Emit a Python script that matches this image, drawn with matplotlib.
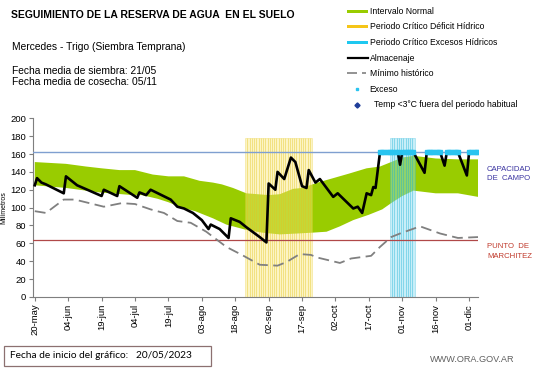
import numpy as np
import matplotlib
matplotlib.use('Agg')
import matplotlib.pyplot as plt
from matplotlib.patches import Rectangle
from matplotlib.lines import Line2D

plt.rcParams['font.family'] = ['Liberation Sans', 'DejaVu Sans']

W, H = 541, 368

# días desde el 20/05
tick_labels = ['20-may', '04-jun', '19-jun', '04-jul', '19-jul', '03-ago', '18-ago',
               '02-sep', '17-sep', '02-oct', '17-oct', '01-nov', '16-nov', '01-dic']
tick_days = [0, 15, 30, 45, 60, 75, 90, 105, 120, 135, 150, 165, 180, 195]

# Intervalo normal (banda verde)
upper_days = [0, 14, 23, 30, 38, 45, 53, 60, 67, 74, 80, 84, 89, 95, 100, 105, 110,
              116, 120, 127, 134, 141, 149, 155, 160, 165, 170, 180, 190, 199]
upper_vals = [151, 149, 146, 144, 142, 142, 137, 135, 135, 130, 128, 126, 122, 116,
              115, 114, 115, 121, 122, 128, 133, 138, 144, 146, 151, 156, 158, 155, 154, 154]
lower_days = [0, 14, 29, 44, 48, 55, 60, 66, 72, 80, 86, 95, 102, 110, 118, 125, 131,
              137, 143, 150, 156, 160, 165, 170, 180, 190, 199]
lower_vals = [125, 122, 117, 114, 114, 110, 106, 100, 96, 88, 81, 75, 72, 70, 71, 72,
              73, 79, 86, 92, 98, 105, 113, 119, 116, 116, 112]

# Almacenaje
alm_days = [0, 1, 3, 5, 13, 14, 19, 30, 31, 37, 38, 46, 47, 50, 52, 61, 64, 67, 71, 75,
            78, 79, 83, 87, 88, 92, 95, 101, 104, 105, 108, 109, 112, 115, 117, 120, 122,
            123, 126, 128, 134, 136, 143, 145, 147, 149, 151, 152, 153, 155, 163, 164,
            165, 170, 175, 176, 182, 184, 185, 190, 194, 195, 199]
alm_vals = [125, 133, 128, 126, 116, 135, 125, 113, 120, 113, 124, 111, 117, 114, 120,
            109, 101, 99, 94, 86, 76, 81, 76, 66, 88, 84, 78, 67, 61, 127, 120, 140, 132,
            156, 151, 124, 122, 142, 128, 132, 112, 116, 99, 101, 94, 116, 114, 123, 122,
            162, 162, 148, 162, 162, 139, 162, 162, 147, 162, 162, 136, 162, 162]

# Mínimo histórico
min_days = [0, 5, 13, 18, 31, 39, 45, 52, 58, 64, 70, 77, 86, 93, 101, 109, 113, 119,
            124, 127, 137, 142, 151, 155, 160, 164, 173, 182, 190, 199]
min_vals = [96, 94, 109, 109, 101, 105, 104, 98, 94, 85, 83, 73, 56, 47, 36, 35, 39, 48,
            47, 44, 38, 43, 46, 56, 67, 71, 79, 71, 66, 67]

# días con exceso (almacenaje en capacidad de campo)
exceso_days = [155, 156, 157, 158, 159, 160, 161, 162, 163, 165, 166, 167, 168, 169, 170,
               176, 177, 178, 179, 180, 181, 182, 185, 186, 187, 188, 189, 190,
               195, 196, 197, 198, 199]

# periodos críticos
deficit_days = list(range(95, 125))
excesos_days = list(range(160, 171))
period_height = 178

cap_campo = 162
marchitez = 64

fig = plt.figure(figsize=(W / 100, H / 100), dpi=100)
ax = fig.add_axes([33 / W, 71.1 / H, 445 / W, 178.6 / H])

ax.fill(upper_days + lower_days[::-1], upper_vals + lower_vals[::-1],
        color='#99cc00', lw=0, zorder=1)

ax.bar(deficit_days, [period_height] * len(deficit_days), width=1.0,
       color='#f9e77c', alpha=0.45, edgecolor='#e6c820', linewidth=0.4, zorder=2)
ax.bar(excesos_days, [period_height] * len(excesos_days), width=1.0,
       color='#85daf0', alpha=0.45, edgecolor='#1cb4d8', linewidth=0.4, zorder=2)

ax.axhline(cap_campo, color='#7f9fd0', lw=1.0, zorder=3)
ax.axhline(marchitez, color='#b04848', lw=0.9, zorder=3)

ax.plot(min_days, min_vals, color='#808080', lw=1.3, dashes=(6, 3), zorder=4)
ax.plot(alm_days, alm_vals, color='black', lw=1.9, zorder=5)
ax.plot(exceso_days, [cap_campo] * len(exceso_days), ls='none', marker='s',
        ms=3.2, color='#29c4f0', zorder=6)

ax.set_xlim(-0.8, 199)
ax.set_ylim(0, 200)
ax.set_yticks(range(0, 201, 20))
ax.set_xticks(tick_days)
ax.set_xticklabels(tick_labels, rotation=90)
ax.tick_params(axis='both', labelsize=6.8, length=3, width=0.8, color='#7f7f7f', pad=2)
for s in ['top', 'right']:
    ax.spines[s].set_visible(False)
for s in ['left', 'bottom']:
    ax.spines[s].set_color('#7f7f7f')
    ax.spines[s].set_linewidth(0.8)
ax.set_ylabel('Milímetros', fontsize=5, labelpad=2)


def ftext(x, y, s, **kw):
    fig.text(x / W, 1 - y / H, s, **kw)


ftext(11, 15.5, 'SEGUIMIENTO DE LA RESERVA DE AGUA  EN EL SUELO', fontsize=7.5,
      fontweight='bold', va='center')
ftext(12, 46.5, 'Mercedes - Trigo (Siembra Temprana)', fontsize=7.4, va='center')
ftext(12, 71, 'Fecha media de siembra: 21/05', fontsize=7.4, va='center')
ftext(12, 82, 'Fecha media de cosecha: 05/11', fontsize=7.4, va='center')

# leyenda
leg_y = [11.7, 26.5, 42.7, 58.3, 73, 89.3, 104.7]
leg_x = [370, 370, 370, 370, 370, 369, 374]
leg_txt = ['Intervalo Normal', 'Periodo Crítico Déficit Hídrico',
           'Periodo Crítico Excesos Hídricos', 'Almacenaje', 'Mínimo histórico',
           'Exceso', 'Temp <3°C fuera del periodo habitual']
for i, c in enumerate(['#99cc00', '#f5c518', '#1ec8f0']):
    fig.add_artist(Rectangle((347 / W, 1 - (leg_y[i] + 1.7) / H), 21 / W, 3.4 / H,
                             transform=fig.transFigure, color=c, lw=0))
fig.add_artist(Line2D([348 / W, 368 / W], [1 - leg_y[3] / H] * 2, color='black', lw=1.6,
                      transform=fig.transFigure))
fig.add_artist(Line2D([347 / W, 366 / W], [1 - leg_y[4] / H] * 2, color='#808080', lw=1.2,
                      dashes=(6, 3), transform=fig.transFigure))
fig.add_artist(Line2D([357 / W], [1 - leg_y[5] / H], marker='s', ms=2, color='#29c4f0',
                      ls='none', transform=fig.transFigure))
fig.add_artist(Line2D([357 / W], [1 - leg_y[6] / H], marker='D', ms=2.6, color='#1f3d99',
                      ls='none', transform=fig.transFigure))
for t, xt, yt in zip(leg_txt, leg_x, leg_y):
    ftext(xt, yt, t, fontsize=6.2, va='center')

# etiquetas a la derecha
ftext(487, 170, 'CAPACIDAD', fontsize=5.6, color='#3a34a0', va='center')
ftext(487, 178.5, 'DE  CAMPO', fontsize=5.6, color='#3a34a0', va='center')
ftext(487, 247, 'PUNTO  DE', fontsize=5.6, color='#c0392b', va='center')
ftext(487, 256, 'MARCHITEZ', fontsize=5.6, color='#c0392b', va='center')

# pie
fig.add_artist(Rectangle((3.5 / W, 1 - 366 / H), 207.5 / W, 20.5 / H,
                         transform=fig.transFigure, fill=False, ec='#8c7070', lw=0.9))
ftext(10, 355.5, 'Fecha de inicio del gráfico:   20/05/2023', fontsize=7.3,
      family='Lato', va='center')
ftext(472, 360, 'WWW.ORA.GOV.AR', fontsize=6.6, color='#606060', va='center', ha='center')

fig.savefig('out.png', dpi=100)
